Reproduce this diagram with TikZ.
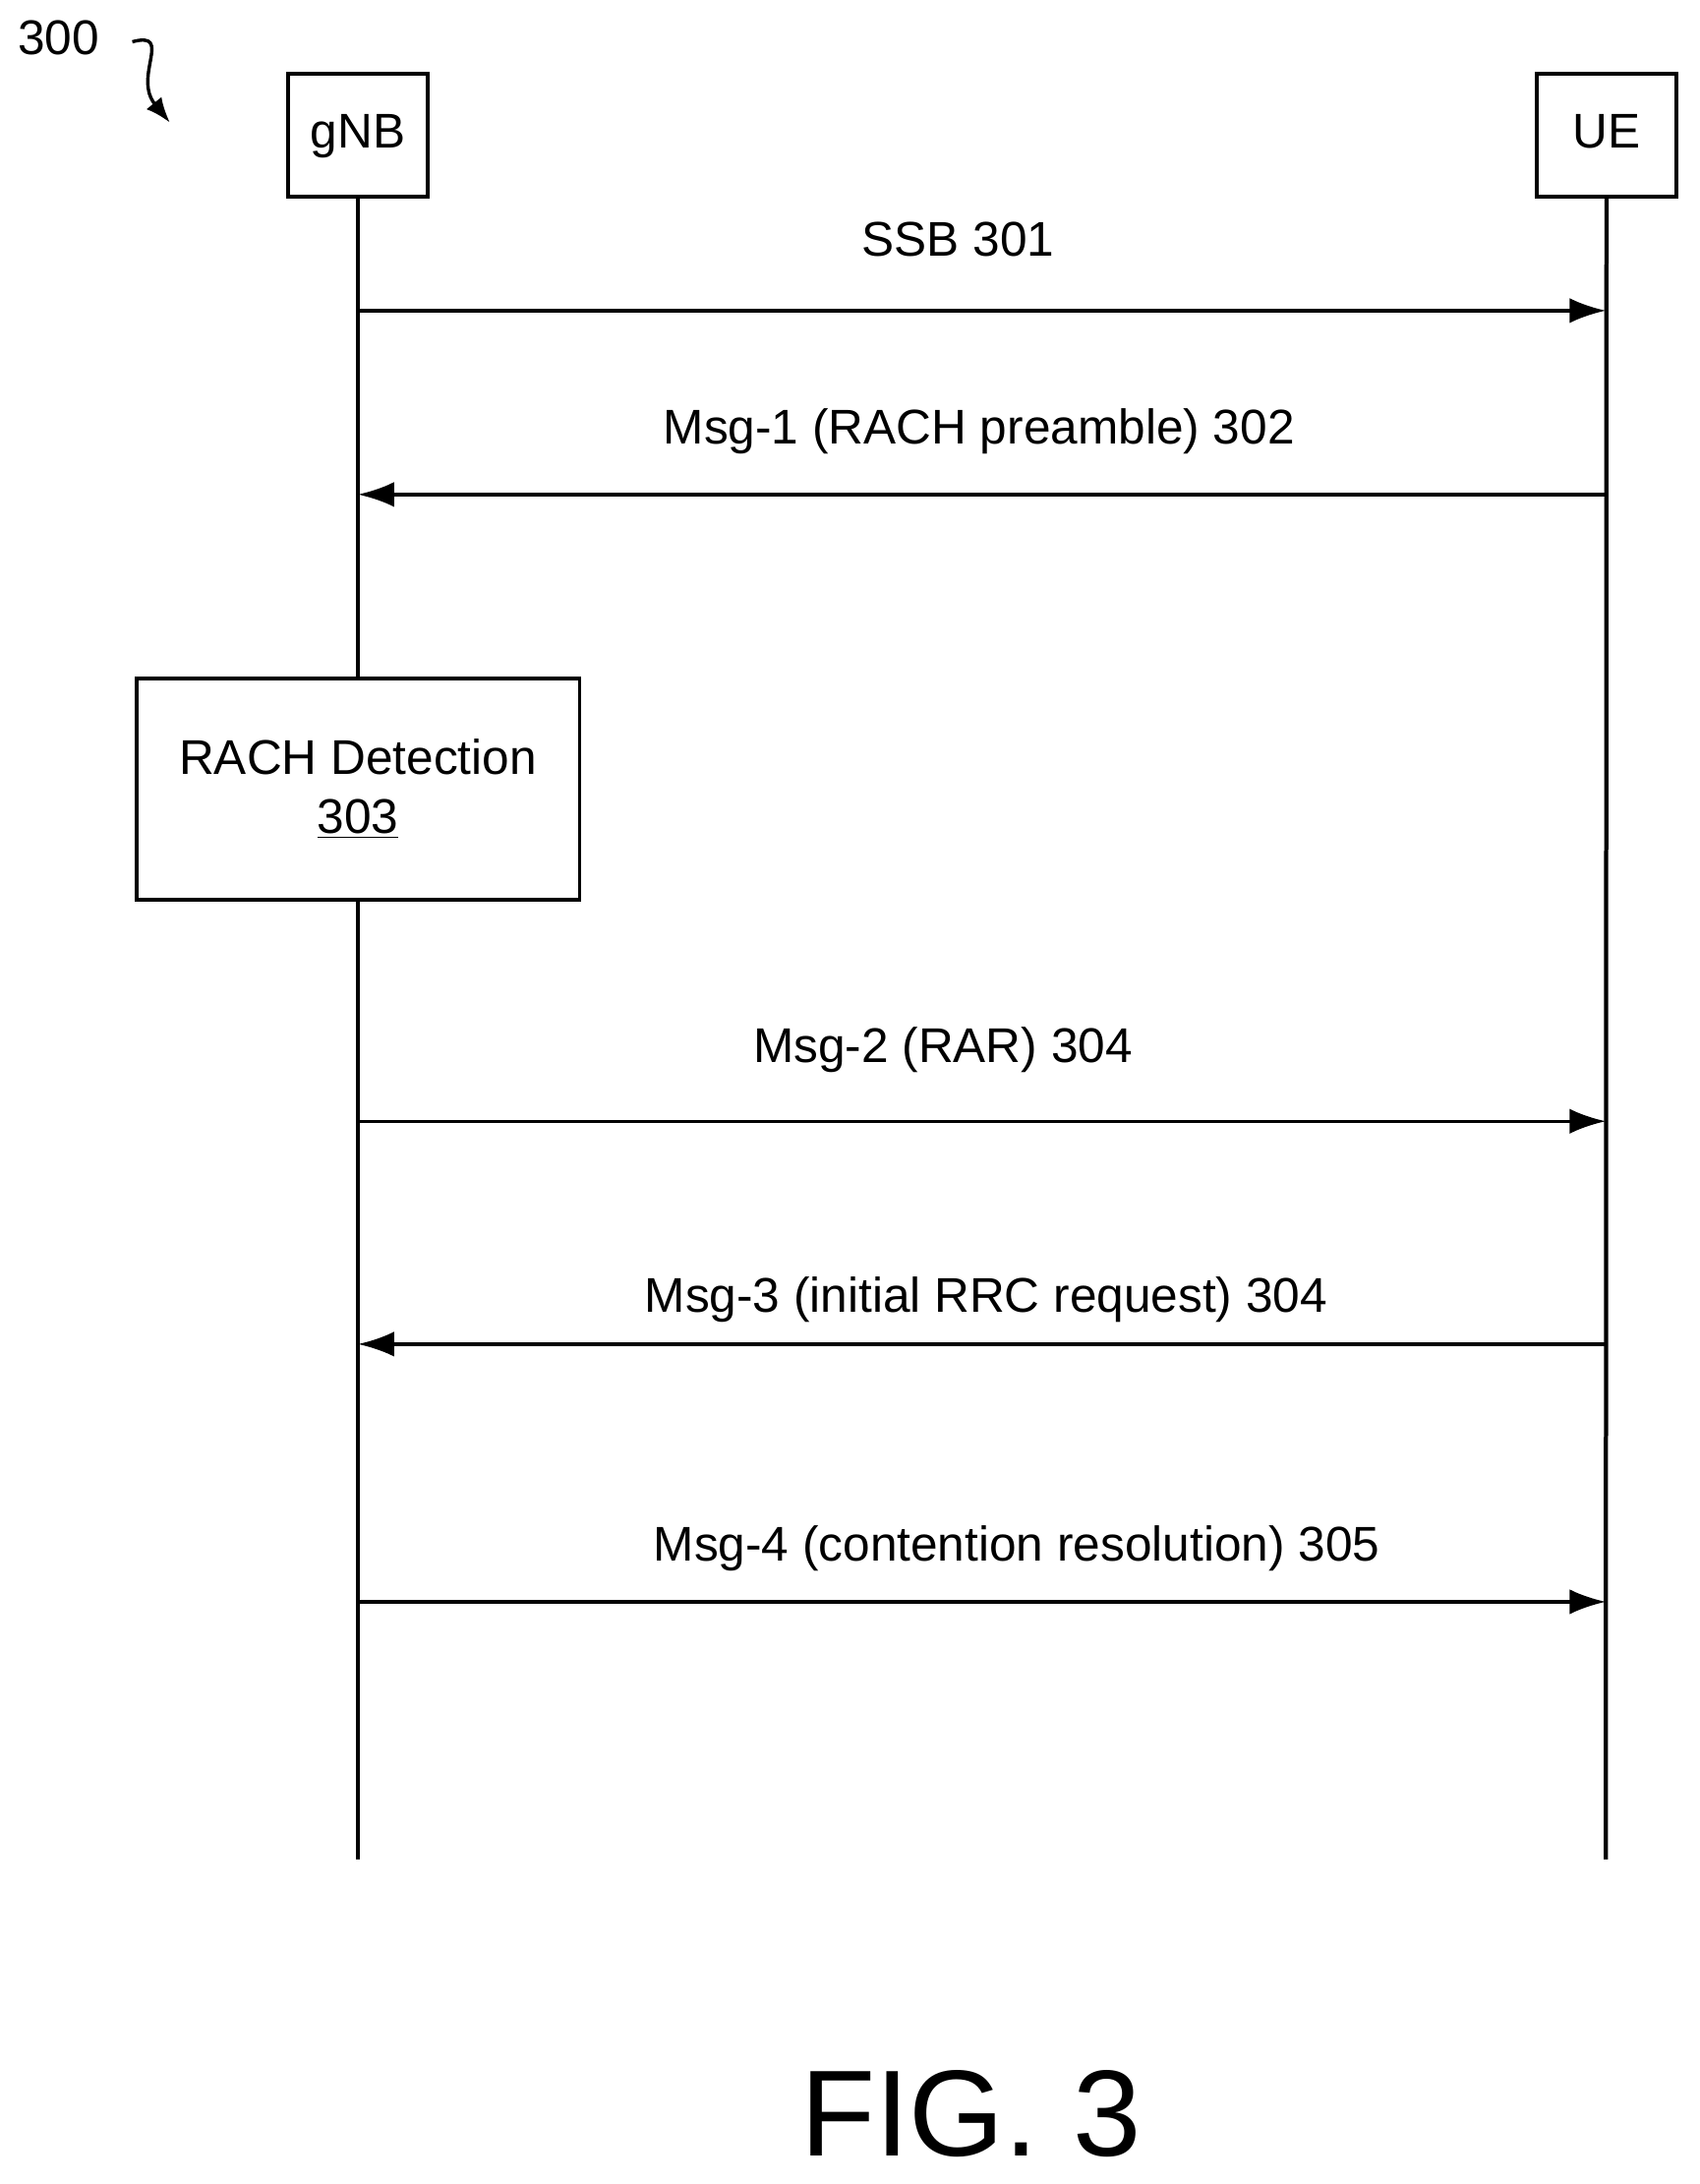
\documentclass[tikz,border=0pt]{standalone}
\usepackage{fontspec}
\setmainfont{Liberation Sans}
\usetikzlibrary{arrows.meta}
\begin{document}
\begin{tikzpicture}[x=0.5pt,y=-0.5pt,
  ent/.style={draw,line width=1.5pt,minimum width=50pt,minimum height=44pt,inner sep=0pt,text height=12pt,text depth=3pt,font=\fontsize{17.5}{20}\selectfont},
  life/.style={line width=1.5pt},
  msg/.style={line width=1.2pt,-{Latex[length=13pt,width=9pt]}},
  lbl/.style={font=\fontsize{17.5}{20}\selectfont}]
\useasboundingbox (0,0) rectangle (1220,1568);
\node[ent] (g) at (257,97) {gNB};
\node[ent] (u) at (1153.5,97) {UE};
\coordinate (gend) at (257,1335);
\coordinate (uend) at (1153,1335);
\node[draw,line width=1.2pt,fill=white,minimum width=159pt,minimum height=79.5pt,align=center,lbl] (r) at (257,566.5) {RACH Detection\\[1pt]\underline{303}};
\draw[life] (g.south) -- (r.north);
\draw[life] (r.south) -- (gend);
\draw[life] (u.south) -- (uend);
\foreach \y/\n in {223/a,355/b,805/c,965/d,1150/e}{
  \coordinate (g\n) at (257,\y); \coordinate (u\n) at (1153,\y);}
\draw[msg] (ga) -- (ua); \draw[msg] (ub) -- (gb); \draw[msg] (gc) -- (uc);
\draw[msg] (ud) -- (gd); \draw[msg] (ge) -- (ue);
\node[lbl] (la) at (688,172) {SSB 301};
\node[lbl] (lb) at (703,310) {Msg-1 (RACH preamble) 302};
\node[lbl] (lc) at (677,754) {Msg-2 (RAR) 304};
\node[lbl] (ld) at (708,933) {Msg-3 (initial RRC request) 304};
\node[lbl] (le) at (730,1112) {Msg-4 (contention resolution) 305};
\node[font=\fontsize{44}{50}\selectfont,anchor=base,inner sep=0pt] (fig) at (697,1548) {FIG. 3};
\node[lbl] (n300) at (42,27) {300};
\coordinate (s1) at (95,30);
\coordinate (s2) at (122,88);
\draw[line width=1.2pt,-{Latex[length=9pt,width=7pt]}] (s1) .. controls (125,22) and (95,55) .. (s2);
\end{tikzpicture}
\end{document}
